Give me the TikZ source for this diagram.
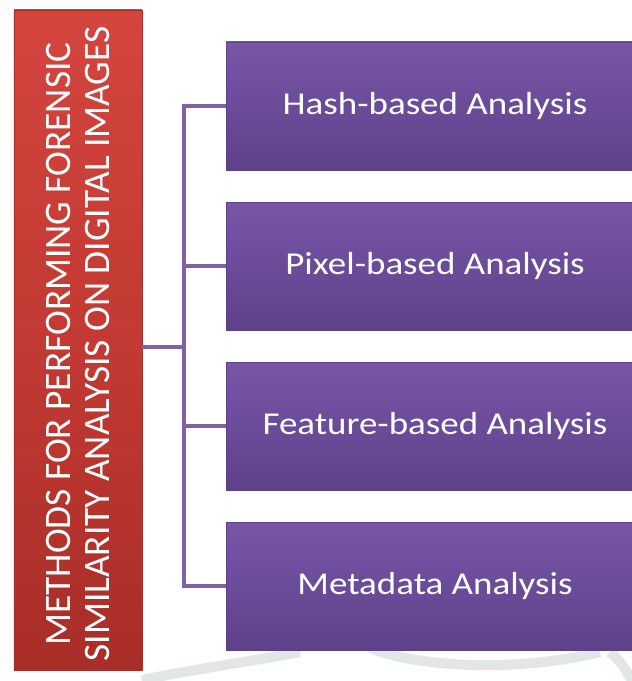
\documentclass[tikz,border=0pt]{standalone}
\usepackage{fontspec}
\setmainfont{Carlito}
\usetikzlibrary{positioning}
\definecolor{redbox}{HTML}{C23A33}
\definecolor{redtop}{HTML}{D4453E}
\definecolor{redbot}{HTML}{A92D28}
\definecolor{purtop}{HTML}{7756A8}
\definecolor{purbot}{HTML}{5E4189}
\definecolor{conncol}{HTML}{8064A2}
\definecolor{arcgray}{HTML}{E3E6E6}
\newcommand{\widetext}[1]{\scalebox{1.16}[1]{#1}}
\tikzset{
  redboxstyle/.style={draw=redbot, line width=0.6bp, top color=redtop, bottom color=redbot, middle color=redbox,
    minimum width=128bp, minimum height=660bp, inner sep=0pt, text=white},
  purbox/.style={draw=purbot, line width=0.6bp, top color=purtop, bottom color=purbot,
    minimum width=418bp, minimum height=128bp, inner sep=0pt, text=white, font=\fontsize{32}{38}\selectfont},
  conn/.style={draw=conncol, line width=3.5bp},
  wm/.style={draw=arcgray, line width=10bp},
}
\begin{document}
\begin{tikzpicture}[x=1bp,y=-1bp]
\useasboundingbox (0,0) rectangle (632,681);
\fill[white] (0,0) rectangle (632,681);
\draw[wm] (142,680) .. controls (200,668) and (260,660) .. (300,652);
\draw[wm] (370,648) .. controls (420,668) and (520,672) .. (600,652);
\draw[wm] (610,652) .. controls (620,660) and (626,670) .. (632,681);
\node[redboxstyle] (red) at (78,340) {};
\node[rotate=90, align=center, text=white, font=\fontsize{37.5}{40}\selectfont] (title) at (78,344)
  {METHODS FOR PERFORMING FORENSIC\\SIMILARITY ANALYSIS ON DIGITAL IMAGES};
\node[purbox] (b1) at (435,106) {\widetext{Hash-based Analysis}};
\node[purbox] (b2) at (435,266) {\widetext{Pixel-based Analysis}};
\node[purbox] (b3) at (435,426) {\widetext{Feature-based Analysis}};
\node[purbox] (b4) at (435,586) {\widetext{Metadata Analysis}};
\coordinate (hub) at (184,347);
\draw[conn] (red.east |- hub) -- (hub);
\draw[conn] (hub) |- (b1.west);
\draw[conn] (hub) |- (b2.west);
\draw[conn] (hub) |- (b3.west);
\draw[conn] (hub) |- (b4.west);
\end{tikzpicture}
\end{document}
